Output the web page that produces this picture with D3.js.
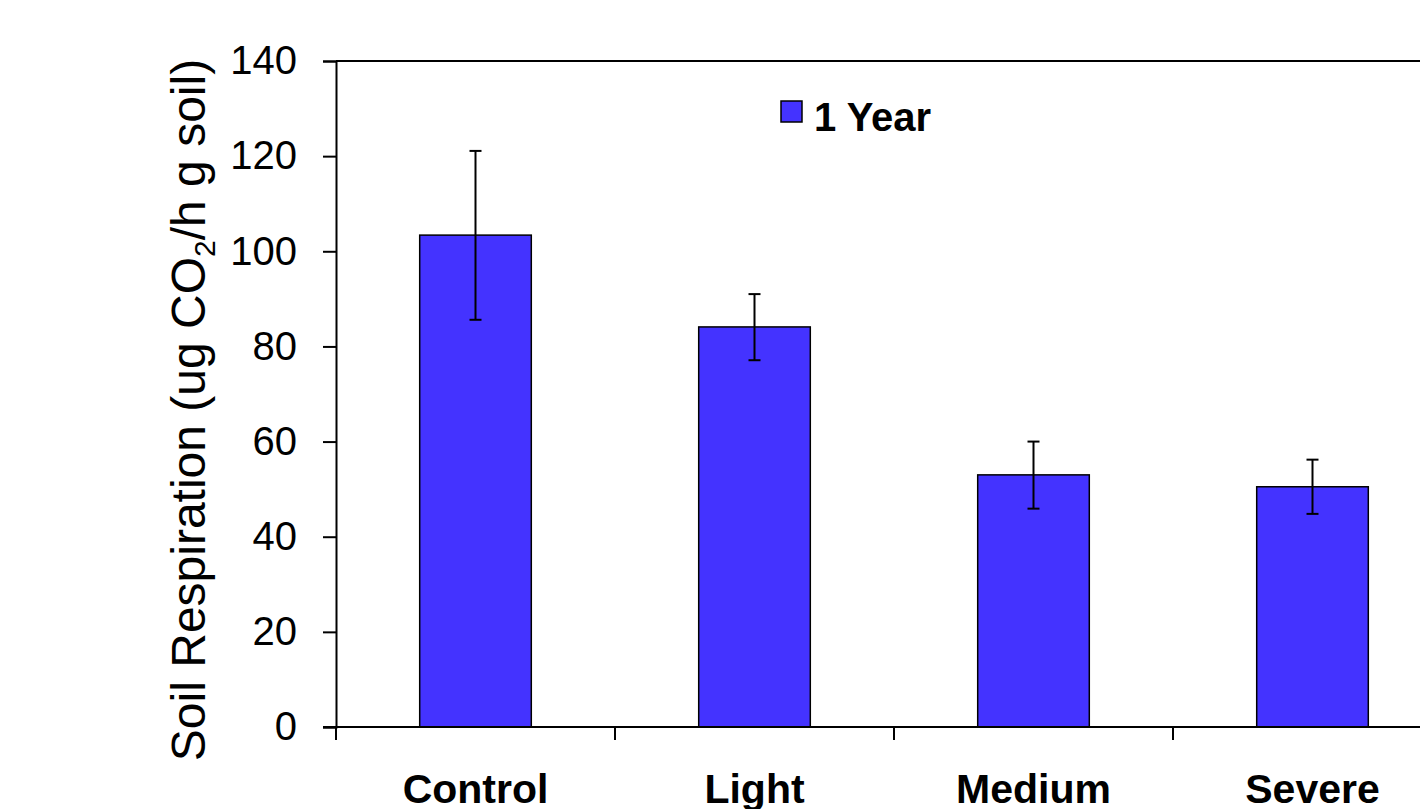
<!DOCTYPE html>
<html>
<head>
<meta charset="utf-8">
<script src="https://cdn.jsdelivr.net/npm/d3@7"></script>
<style>
  html, body { margin: 0; padding: 0; background: #fff; }
  svg { display: block; font-family: "Liberation Sans", Arial, sans-serif; }
</style>
</head>
<body>
<svg id="chart" width="1420" height="809"></svg>
<script>
// Soil respiration after one year, by disturbance severity
const categories = ["Control", "Light", "Medium", "Severe"];
const respiration = [103.4, 84.1, 53.0, 50.5];
const errUpper = [121.1, 91.0, 60.0, 56.2];
const errLower = [85.6, 77.1, 45.9, 44.8];
const yTicks = [0, 20, 40, 60, 80, 100, 120, 140];
const seriesName = "1 Year";

(function () {
  const svg = d3.select("#chart");
  const plotLeft = 336, plotTop = 61, plotBottom = 727;
  const step = 279;

  const x = d3.scaleBand()
    .domain(categories)
    .range([plotLeft, plotLeft + step * categories.length])
    .paddingInner(0.6)
    .paddingOuter(0.3);

  const y = d3.scaleLinear().domain([0, 140]).range([plotBottom, plotTop]);

  const barColor = "#4433ff";

  // frame: top border
  svg.append("line")
    .attr("x1", plotLeft).attr("x2", 1430)
    .attr("y1", y(140)).attr("y2", y(140))
    .attr("stroke", "#000").attr("stroke-width", 2);

  // y axis
  const yAxis = d3.axisLeft(y).tickValues(yTicks).tickSize(13).tickPadding(26);
  const yg = svg.append("g").attr("transform", `translate(${plotLeft},0)`).call(yAxis);
  yg.select(".domain").attr("stroke", "#000").attr("stroke-width", 2);
  yg.selectAll(".tick line").attr("stroke", "#000").attr("stroke-width", 2);
  yg.selectAll(".tick text")
    .attr("fill", "#000")
    .style("font-size", "40px")
    .style("font-family", "'Liberation Sans', Arial, sans-serif");

  // bars
  svg.append("g").selectAll("rect")
    .data(categories)
    .join("rect")
    .attr("x", d => x(d))
    .attr("width", x.bandwidth())
    .attr("y", (d, i) => y(respiration[i]))
    .attr("height", (d, i) => y(0) - y(respiration[i]))
    .attr("fill", barColor)
    .attr("stroke", "#000")
    .attr("stroke-width", 1.5);

  // error bars
  const eg = svg.append("g").attr("stroke", "#000").attr("stroke-width", 2);
  categories.forEach((c, i) => {
    const cx = x(c) + x.bandwidth() / 2;
    eg.append("line").attr("x1", cx).attr("x2", cx)
      .attr("y1", y(errUpper[i])).attr("y2", y(errLower[i]));
    [errUpper[i], errLower[i]].forEach(v => {
      eg.append("line").attr("x1", cx - 6).attr("x2", cx + 6)
        .attr("y1", y(v)).attr("y2", y(v));
    });
  });

  // x axis
  svg.append("line")
    .attr("x1", plotLeft - 13).attr("x2", 1430)
    .attr("y1", plotBottom).attr("y2", plotBottom)
    .attr("stroke", "#000").attr("stroke-width", 2);

  const boundaries = d3.range(categories.length + 1).map(i => x.range()[0] + i * x.step());
  svg.append("g").selectAll("line")
    .data(boundaries)
    .join("line")
    .attr("x1", d => d).attr("x2", d => d)
    .attr("y1", plotBottom).attr("y2", plotBottom + 13)
    .attr("stroke", "#000").attr("stroke-width", 2);

  svg.append("g").selectAll("text")
    .data(categories)
    .join("text")
    .attr("x", d => x(d) + x.bandwidth() / 2)
    .attr("y", 803)
    .attr("text-anchor", "middle")
    .style("font-size", "41px")
    .style("font-weight", "bold")
    .text(d => d);

  // y axis title
  const yt = svg.append("text")
    .attr("transform", "translate(205,410) rotate(-90)")
    .attr("text-anchor", "middle")
    .style("font-size", "48px");
  yt.append("tspan").text("Soil Respiration (ug CO");
  yt.append("tspan").attr("dy", 10).style("font-size", "30px").text("2");
  yt.append("tspan").attr("dy", -10).text("/h g soil)");

  // legend
  const lg = svg.append("g");
  lg.append("rect")
    .attr("x", 781).attr("y", 101).attr("width", 21).attr("height", 21)
    .attr("fill", barColor).attr("stroke", "#000").attr("stroke-width", 1.5);
  lg.append("text")
    .attr("x", 814).attr("y", 131)
    .style("font-size", "40px")
    .style("font-weight", "bold")
    .text(seriesName);
})();
</script>
</body>
</html>
